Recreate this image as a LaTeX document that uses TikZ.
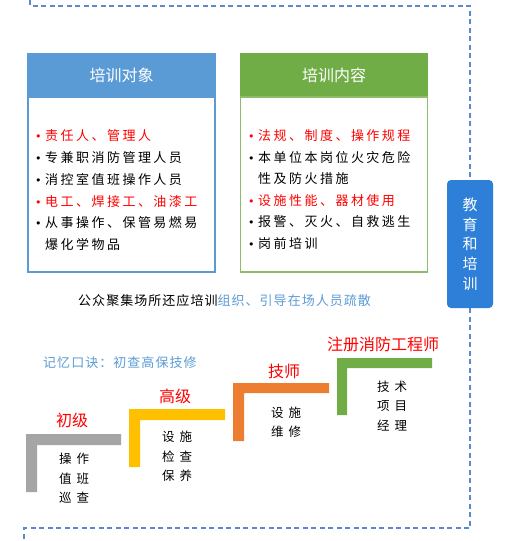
\documentclass[tikz,border=0pt]{standalone}
\usepackage{fontspec}
\setmainfont{Noto Sans CJK SC}
\newfontfamily\cjkplain{Noto Sans CJK SC}
\newfontfamily\cjklist[LetterSpace=19]{Noto Sans CJK SC}
\newfontfamily\cjknote[LetterSpace=8]{Noto Sans CJK SC}
\newfontfamily\cjkstep[LetterSpace=40]{Noto Sans CJK SC}
\newfontfamily\symfont{DejaVu Sans}
\definecolor{hdrblue}{HTML}{5B9BD5}
\definecolor{hdrgreen}{HTML}{70AD47}
\definecolor{redtxt}{HTML}{FF0000}
\definecolor{bluetxt}{HTML}{5B9BD5}
\definecolor{edublue}{HTML}{2E7FD8}
\definecolor{dashblue}{HTML}{5B87D3}
\definecolor{stepgray}{HTML}{A5A5A5}
\definecolor{stepyellow}{HTML}{FFC000}
\definecolor{steporange}{HTML}{ED7D31}
\definecolor{stepgreen}{HTML}{70AD47}
\newcommand{\bul}{\makebox[10pt][l]{{\symfont\fontsize{11}{13}\selectfont •}}}
\newcommand{\ind}{\hspace*{10pt}}
\tikzset{
  listitem/.style={anchor=west, inner sep=0pt, font=\cjklist\fontsize{13}{15}\selectfont},
  hdrtext/.style={inner sep=0pt, text=white, font=\cjkplain\fontsize{16}{18}\selectfont},
  levellabel/.style={inner sep=0pt, text=redtxt, font=\cjkplain\fontsize{16}{18}\selectfont},
  steptext/.style={inner sep=0pt, align=left, font=\cjkstep\fontsize{12.5}{19.5}\selectfont},
  notetext/.style={anchor=west, inner sep=0pt, font=\cjknote\fontsize{13}{15}\selectfont},
}
\begin{document}
\begin{tikzpicture}[x=1pt,y=-1pt]
\useasboundingbox (0,0) rectangle (504,541);
% dashed frame
\draw[dashblue, line width=1.5pt, dash pattern=on 5pt off 3.5pt]
  (30,0) -- (30,6) -- (470,6) -- (470,528) -- (24,528) -- (24,541);
% left panel
\fill[hdrblue] (27,53) rectangle (216,97);
\draw[hdrblue, line width=1.2pt, fill=white] (28,97) rectangle (215,272);
\node[hdrtext] (hL) at (121.5,75) {培训对象};
\node[listitem, text=redtxt] (l1) at (35,136) {\bul 责任人、管理人};
\node[listitem] (l2) at (35,158) {\bul 专兼职消防管理人员};
\node[listitem] (l3) at (35,179.5) {\bul 消控室值班操作人员};
\node[listitem, text=redtxt] (l4) at (35,201.5) {\bul 电工、焊接工、油漆工};
\node[listitem] (l5) at (35,223) {\bul 从事操作、保管易燃易};
\node[listitem] (l6) at (35,244) {\ind 爆化学物品};
% right panel
\fill[hdrgreen] (240,53) rectangle (428,97);
\draw[hdrgreen!80, line width=1.2pt, fill=white] (240.5,97) rectangle (427.5,272);
\node[hdrtext] (hR) at (334,75) {培训内容};
\node[listitem, text=redtxt] (r1) at (248,136) {\bul 法规、制度、操作规程};
\node[listitem] (r2) at (248,158) {\bul 本单位本岗位火灾危险};
\node[listitem] (r3) at (248,179) {\ind 性及防火措施};
\node[listitem, text=redtxt] (r4) at (248,200.5) {\bul 设施性能、器材使用};
\node[listitem] (r5) at (248,222) {\bul 报警、灭火、自救逃生};
\node[listitem] (r6) at (248,243.5) {\bul 岗前培训};
% education box
\node[fill=edublue, rounded corners=4pt, minimum width=46pt, minimum height=128pt, inner sep=0pt,
  text=white, align=center, font=\cjkplain\fontsize{15}{19.7}\selectfont] (edu) at (470,244)
  {教\\育\\和\\培\\训};
% notes
\node[notetext] (note) at (78,301) {公众聚集场所还应培训\textcolor{bluetxt}{组织、引导在场人员疏散}};
\node[notetext, text=bluetxt] (memo) at (43,363) {记忆口诀：初查高保技修};
% steps
\fill[stepgray] (26,434) -- (121,434) -- (121,445) -- (37,445) -- (37,492) -- (26,492) -- cycle;
\fill[stepyellow] (129,409) -- (225,409) -- (225,420) -- (140,420) -- (140,467) -- (129,467) -- cycle;
\fill[steporange] (233,383) -- (329,383) -- (329,393) -- (244,393) -- (244,441) -- (233,441) -- cycle;
\fill[stepgreen] (337,358) -- (432,358) -- (432,368) -- (347,368) -- (347,415) -- (337,415) -- cycle;
\node[levellabel] (s1) at (72,420) {初级};
\node[levellabel] (s2) at (175,396) {高级};
\node[levellabel] (s3) at (284,371) {技师};
\node[levellabel] (s4) at (383,344) {注册消防工程师};
\node[steptext] (t1) at (74,478.5) {操作\\值班\\巡查};
\node[steptext] (t2) at (177,456.5) {设施\\检查\\保养};
\node[steptext] (t3) at (286,422) {设施\\维修};
\node[steptext] (t4) at (392,406) {技术\\项目\\经理};
\end{tikzpicture}
\end{document}
